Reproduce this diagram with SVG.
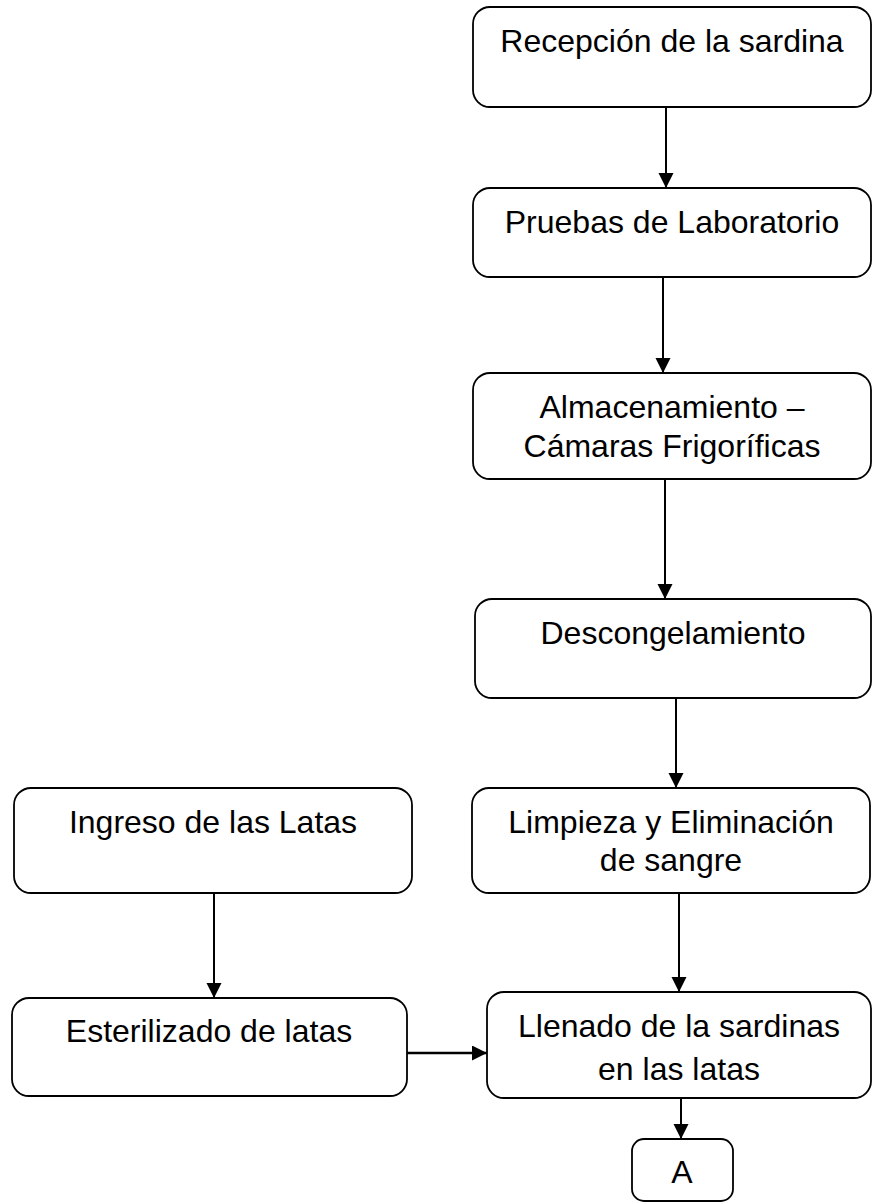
<svg xmlns="http://www.w3.org/2000/svg" width="873" height="1204" viewBox="0 0 873 1204">
<style>
.box{fill:#fff;stroke:#000;stroke-width:1.8}
.t{font-family:"Liberation Sans",Arial,sans-serif;font-size:32px;fill:#000;text-anchor:middle}
.c{stroke:#000;stroke-width:2;fill:none;marker-end:url(#ah)}
</style>
<defs>
<marker id="ah" markerUnits="userSpaceOnUse" markerWidth="16" markerHeight="16" refX="15" refY="7.5" orient="auto">
<path d="M0,0 L15,7.5 L0,15 Z" fill="#000"/>
</marker>
</defs>
<rect width="873" height="1204" fill="#fff"/>
<g id="connectors">
<line class="c" x1="666" y1="107" x2="666" y2="188"/>
<line class="c" x1="663" y1="277" x2="663" y2="373"/>
<line class="c" x1="665" y1="479" x2="665" y2="599"/>
<line class="c" x1="676" y1="698" x2="676" y2="788"/>
<line class="c" x1="679" y1="893" x2="679" y2="992"/>
<line class="c" x1="214" y1="893" x2="214" y2="998"/>
<line class="c" x1="407" y1="1053" x2="487" y2="1053" style="stroke-width:2.6"/>
<line class="c" x1="681" y1="1098" x2="681" y2="1139"/>
</g>
<g id="n1"><rect class="box" x="473" y="7" width="398" height="100" rx="17"/><text class="t" x="672" y="52">Recepción de la sardina</text></g>
<g id="n2"><rect class="box" x="473" y="188" width="398" height="89" rx="17"/><text class="t" x="672" y="233">Pruebas de Laboratorio</text></g>
<g id="n3"><rect class="box" x="473" y="373" width="398" height="106" rx="17"/><text class="t" x="672" y="418">Almacenamiento –</text><text class="t" x="672" y="457">Cámaras Frigoríficas</text></g>
<g id="n4"><rect class="box" x="475" y="599" width="396" height="99" rx="17"/><text class="t" x="673" y="644">Descongelamiento</text></g>
<g id="n5"><rect class="box" x="472" y="788" width="398" height="105" rx="17"/><text class="t" x="671" y="833">Limpieza y Eliminación</text><text class="t" x="671" y="871">de sangre</text></g>
<g id="n6"><rect class="box" x="14" y="788" width="398" height="105" rx="17"/><text class="t" x="213" y="833">Ingreso de las Latas</text></g>
<g id="n7"><rect class="box" x="12" y="998" width="395" height="98" rx="17"/><text class="t" x="209" y="1042">Esterilizado de latas</text></g>
<g id="n8"><rect class="box" x="487" y="992" width="384" height="106" rx="17"/><text class="t" x="679" y="1037">Llenado de la sardinas</text><text class="t" x="679" y="1080">en las latas</text></g>
<g id="n9"><rect class="box" x="632" y="1139" width="101" height="62" rx="12"/><text class="t" x="682" y="1183">A</text></g>
</svg>
